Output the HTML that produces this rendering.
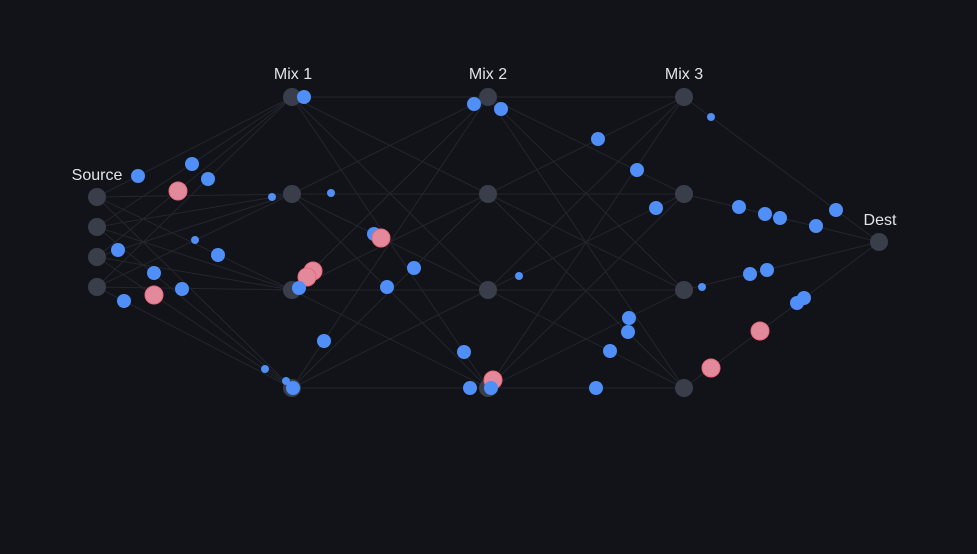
<!DOCTYPE html>
<html><head><meta charset="utf-8"><style>
html,body{margin:0;padding:0;background:#111318;}
svg{display:block}
text{font-family:"Liberation Sans",sans-serif;font-size:16px;fill:#e2e4ea;text-anchor:middle}
</style></head><body>
<svg width="977" height="554" viewBox="0 0 977 554">
<rect width="977" height="554" fill="#111318"/>
<g id="edges" stroke="#23262d" stroke-width="1"></g>
<g id="nodes" fill="#3a3e4b"></g>
<g id="dots"></g>
<text x="97" y="180">Source</text>
<text x="293" y="79">Mix 1</text>
<text x="488" y="79">Mix 2</text>
<text x="684" y="79">Mix 3</text>
<text x="880" y="225">Dest</text>
</svg>
<script>
const NS="http://www.w3.org/2000/svg";
const src=[197,227,257,287].map(y=>[97,y]);
const ys=[97,194,290,388];
const m1=ys.map(y=>[292,y]),m2=ys.map(y=>[488,y]),m3=ys.map(y=>[684,y]);
const dst=[[879,242]];
const E=document.getElementById('edges'),N=document.getElementById('nodes'),D=document.getElementById('dots');
function line(a,b){const l=document.createElementNS(NS,'line');l.setAttribute('x1',a[0]);l.setAttribute('y1',a[1]);l.setAttribute('x2',b[0]);l.setAttribute('y2',b[1]);E.appendChild(l);}
function conn(A,B){A.forEach(a=>B.forEach(b=>line(a,b)));}
conn(src,m1);conn(m1,m2);conn(m2,m3);conn(m3,dst);
[...src,...m1,...m2,...m3,...dst].forEach(p=>{const c=document.createElementNS(NS,'circle');c.setAttribute('cx',p[0]);c.setAttribute('cy',p[1]);c.setAttribute('r',9);N.appendChild(c);});
const dots=[[138,176,7],[192,164,7],[208,179,7],[178,191,9,1],[118,250,7],[195,240,4],[218,255,7],[154,273,7],[182,289,7],[124,301,7],[154,295,9,1],
[304,97,7],[272,197,4],[331,193,4],[374,234,7],[381,238,9,1],[313,271,9,1],[307,277,9,1],[299,288,7],[387,287,7],[414,268,7],[324,341,7],[265,369,4],[286,381,4],[293,388,7],
[474,104,7],[501,109,7],[519,276,4],[464,352,7],[493,380,9,1],[470,388,7],[491,388,7],
[598,139,7],[637,170,7],[656,208,7],[711,117,4],[629,318,7],[628,332,7],[610,351,7],[596,388,7],[702,287,4],[711,368,9,1],
[739,207,7],[765,214,7],[780,218,7],[836,210,7],[816,226,7],[750,274,7],[767,270,7],[760,331,9,1],[797,303,7],[804,298,7]];
dots.forEach(d=>{const c=document.createElementNS(NS,'circle');c.setAttribute('cx',d[0]);c.setAttribute('cy',d[1]);c.setAttribute('r',d[2]);
if(d[3]){c.setAttribute('fill','#e28a9c');c.setAttribute('stroke','#f0667a');c.setAttribute('stroke-width','1');}else c.setAttribute('fill','#4f8ff7');D.appendChild(c);});
</script>
</body></html>
